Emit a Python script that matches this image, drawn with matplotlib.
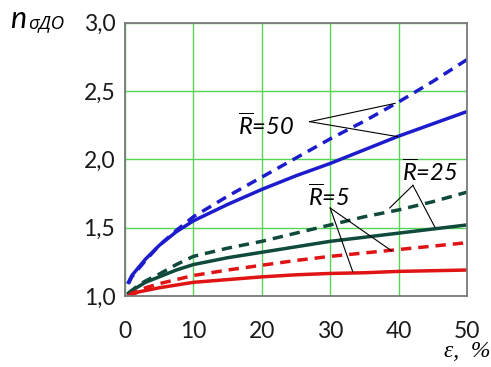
import numpy as np
import matplotlib
matplotlib.use('Agg')
import matplotlib.pyplot as plt

# strain, %
eps = [0.5, 1, 2, 3, 5, 7.5, 10, 15, 20, 25, 30, 35, 40, 45, 50]

# R=50
blue_solid = [1.10, 1.15, 1.21, 1.27, 1.37, 1.47, 1.55, 1.67, 1.78, 1.88, 1.97, 2.07, 2.17, 2.26, 2.35]
blue_dash = [1.09, 1.14, 1.20, 1.26, 1.37, 1.48, 1.58, 1.73, 1.87, 2.01, 2.15, 2.28, 2.42, 2.57, 2.73]
# R=25
green_solid = [1.02, 1.04, 1.07, 1.10, 1.14, 1.19, 1.23, 1.28, 1.32, 1.36, 1.40, 1.43, 1.46, 1.49, 1.52]
green_dash = [1.02, 1.04, 1.08, 1.11, 1.16, 1.23, 1.29, 1.35, 1.40, 1.46, 1.52, 1.58, 1.63, 1.69, 1.76]
# R=5
red_solid = [1.00, 1.01, 1.03, 1.04, 1.06, 1.08, 1.10, 1.12, 1.14, 1.155, 1.165, 1.17, 1.18, 1.185, 1.19]
red_dash = [1.00, 1.02, 1.04, 1.06, 1.09, 1.12, 1.15, 1.19, 1.225, 1.26, 1.29, 1.315, 1.34, 1.365, 1.39]

xticks = [0, 10, 20, 30, 40, 50]
yticks = [1.0, 1.5, 2.0, 2.5, 3.0]
ytick_labels = ['1,0', '1,5', '2,0', '2,5', '3,0']

plt.rcParams['font.family'] = ['Lato', 'DejaVu Sans']
plt.rcParams['mathtext.fontset'] = 'custom'
plt.rcParams['mathtext.it'] = 'Lato:italic'
plt.rcParams['mathtext.rm'] = 'Lato'

fig = plt.figure(figsize=(4.91, 3.67), dpi=100)
ax = fig.add_axes([0.2546, 0.1935, 0.6964, 0.7445])

blue = '#1c1ccc'
green = '#0f4a3c'
red = '#e01414'
lw = 2.5
dash = (0, (3.0, 2.0))

ax.plot(eps, blue_solid, color=blue, lw=lw)
ax.plot(eps, blue_dash, color=blue, lw=lw, linestyle=dash)
ax.plot(eps, green_solid, color=green, lw=lw)
ax.plot(eps, green_dash, color=green, lw=lw, linestyle=dash)
ax.plot(eps, red_solid, color=red, lw=lw)
ax.plot(eps, red_dash, color=red, lw=lw, linestyle=dash)

ax.set_xlim(0, 50)
ax.set_ylim(1.0, 3.0)
ax.set_xticks(xticks)
ax.set_yticks(yticks)
ax.set_yticklabels(ytick_labels)
ax.tick_params(length=0, labelsize=16.5, colors='#1a1a1a')
ax.tick_params(axis='x', pad=18)
ax.tick_params(axis='y', pad=7)
ax.grid(True, color='#55d455', lw=1.0)
for s in ax.spines.values():
    s.set_color('#7a7a7a')
    s.set_linewidth(1.3)

# labels with leader lines
lab_kw = dict(fontsize=17, style='italic', ha='center', va='center')
line_kw = dict(color='black', lw=0.8)

ax.text(20.6, 2.25, r'$\overline{R}$=50', **lab_kw)
for tx, ty in [(39.5, 2.41), (39.9, 2.166)]:
    ax.plot([27.0, tx], [2.276, ty], **line_kw)

ax.text(44.6, 1.91, r'$\overline{R}$=25', **lab_kw)
for tx, ty in [(38.7, 1.644), (45.3, 1.505)]:
    ax.plot([42.1, tx], [1.81, ty], **line_kw)

ax.text(29.8, 1.73, r'$\overline{R}$=5', **lab_kw)
for tx, ty in [(39.0, 1.33), (33.3, 1.178)]:
    ax.plot([30.0, tx], [1.644, ty], **line_kw)

# axis titles
fig.text(10 / 491, 1 - 28 / 367, 'n', fontsize=22, style='italic', ha='left', va='baseline')
fig.text(28 / 491, 1 - 28 / 367, 'σДО', fontsize=13.5, style='italic', ha='left', va='baseline',
         family=['Open Sans', 'DejaVu Sans'])
fig.text(490 / 491, 1 - 357 / 367, 'ε,  %', fontsize=17, style='italic', ha='right', va='baseline',
         family='Liberation Serif')

fig.savefig('out.png', dpi=100)
